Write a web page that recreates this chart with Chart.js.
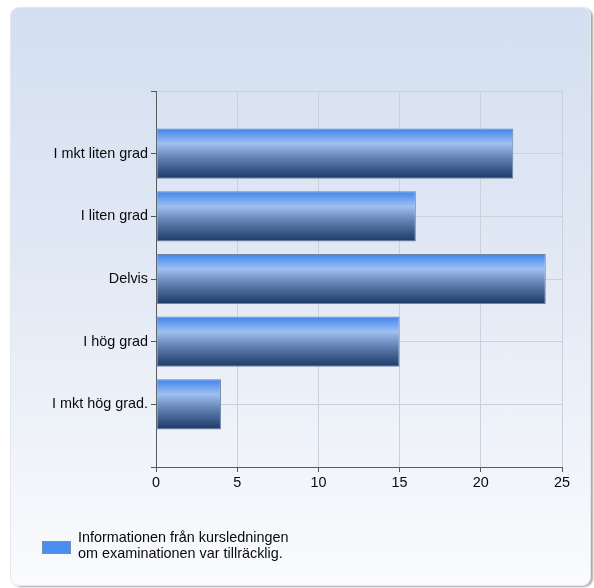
<!DOCTYPE html>
<html>
<head>
<meta charset="utf-8">
<script src="https://cdn.jsdelivr.net/npm/chart.js@4"></script>
<style>
  html, body { margin:0; padding:0; width:594px; height:588px; background:#ffffff; overflow:hidden; }
  #card {
    position:absolute; left:10px; top:7px; width:579px; height:577px;
    border-radius:9px;
    background: linear-gradient(to bottom, #d3dff0 0%, #e2e9f5 45%, #fafbfd 100%);
    box-shadow: 2px 1px 2px rgba(0,0,0,0.35);
    border:1px solid #e4e8ee;
  }
  #wrap { position:absolute; left:0; top:0; width:579px; height:577px; }
  #legend { position:absolute; left:42px; top:529px; font-family:"Liberation Sans", Arial, sans-serif; font-size:14.4px; line-height:16px; color:#0a0a0a; }
  #legend .box { position:absolute; left:0; top:12px; width:27px; height:11px; border:1px solid #7a8ca8; }
  #legend .txt { position:absolute; left:36px; top:0; white-space:nowrap; }
</style>
</head>
<body>
<div id="card"><div id="wrap"><canvas id="c"></canvas></div></div>
<div id="legend"></div>
<script>
const categories = ['I mkt liten grad', 'I liten grad', 'Delvis', 'I hög grad', 'I mkt hög grad.'];
const values = [22, 16, 24, 15, 4];
const xTicks = [0, 5, 10, 15, 20, 25];
const seriesLabel = ['Informationen från kursledningen', 'om examinationen var tillräcklig.'];
const legendColor = '#4a8ef0';

const labels = [''].concat(categories, ['']);
const data = [null].concat(values, [null]);

function barGradient(ctx) {
  const chart = ctx.chart;
  if (!chart.chartArea || ctx.dataIndex == null) return legendColor;
  const y = chart.scales.y;
  const c = y.getPixelForValue(ctx.dataIndex);
  const h = Math.abs(y.getPixelForValue(1) - y.getPixelForValue(0)) * 0.8 / 2;
  const g = chart.ctx.createLinearGradient(0, c - h, 0, c + h);
  g.addColorStop(0, '#3d84ee');
  g.addColorStop(0.3, '#9fbff1');
  g.addColorStop(0.6, '#5f80b0');
  g.addColorStop(1, '#1c3866');
  return g;
}

const FONT = { family: '"Liberation Sans", Arial, sans-serif', size: 14.4 };

const chart = new Chart(document.getElementById('c'), {
  type: 'bar',
  data: {
    labels: labels,
    datasets: [{
      label: seriesLabel.join(' '),
      data: data,
      backgroundColor: barGradient,
      borderColor: '#6f86a6',
      borderWidth: 1,
      borderSkipped: false,
      categoryPercentage: 0.8,
      barPercentage: 1.0
    }]
  },
  options: {
    indexAxis: 'y',
    responsive: true,
    maintainAspectRatio: false,
    animation: false,
    layout: { padding: { top: 83, right: 28, left: 22, bottom: 63 } },
    scales: {
      x: {
        min: 0, max: 25,
        afterBuildTicks: (s) => { s.ticks = xTicks.map(v => ({ value: v })); },
        afterFit: (s) => { s.height = 55; },
        grid: { color: '#c9d1dc', tickColor: '#555', tickLength: 5, drawTicks: true },
        border: { color: '#5a5a5a', width: 1 },
        ticks: { color: '#0a0a0a', font: FONT, padding: 2 }
      },
      y: {
        type: 'category',
        offset: false,
        afterFit: (s) => { s.width = 123; },
        grid: { color: '#c9d1dc', tickColor: '#555', tickLength: 5, offset: false },
        border: { color: '#5a5a5a', width: 1 },
        ticks: { color: '#0a0a0a', font: FONT, padding: 3, autoSkip: false }
      }
    },
    plugins: {
      tooltip: { enabled: false },
      legend: { display: false }
    }
  }
});

// HTML legend built from the dataset
(function () {
  const lg = document.getElementById('legend');
  const box = document.createElement('div');
  box.className = 'box';
  box.style.background = legendColor;
  const txt = document.createElement('div');
  txt.className = 'txt';
  seriesLabel.forEach((line, i) => {
    if (i) txt.appendChild(document.createElement('br'));
    txt.appendChild(document.createTextNode(line));
  });
  lg.appendChild(box);
  lg.appendChild(txt);
})();
</script>
</body>
</html>
